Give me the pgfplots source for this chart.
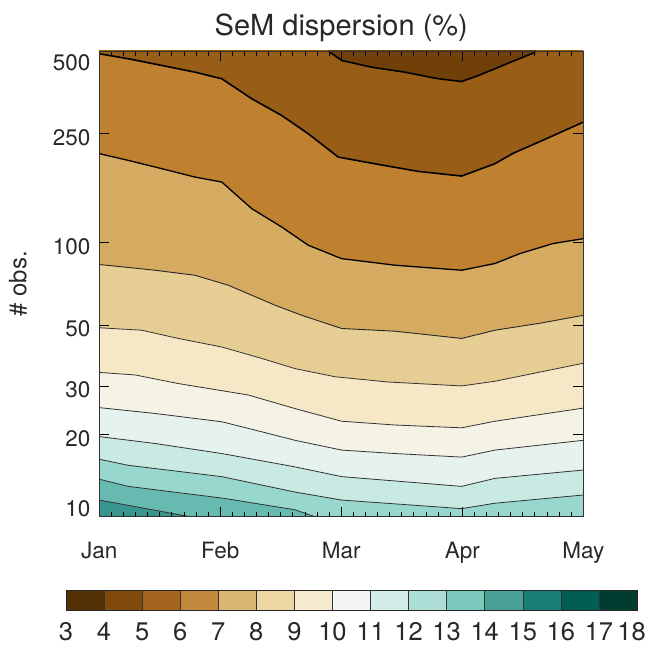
\documentclass[border=0pt]{standalone}
\usepackage{pgfplots}
\pgfplotsset{compat=1.18}
\usepackage{fontspec}
\setmainfont{TeX Gyre Heros}
\definecolor{pV}{RGB}{112,64,8}
\definecolor{pAB}{RGB}{152,93,22}
\definecolor{pBC}{RGB}{191,128,48}
\definecolor{pCD}{RGB}{213,171,97}
\definecolor{pDE}{RGB}{230,205,148}
\definecolor{pEF}{RGB}{246,232,198}
\definecolor{pFG}{RGB}{245,242,230}
\definecolor{pGH}{RGB}{230,242,238}
\definecolor{pHI}{RGB}{200,234,227}
\definecolor{pIJ}{RGB}{152,215,205}
\definecolor{pJK}{RGB}{103,186,176}
\definecolor{pK}{RGB}{57,150,142}
\definecolor{cbA}{RGB}{84,48,5}
\definecolor{cbB}{RGB}{128,74,12}
\definecolor{cbC}{RGB}{164,102,30}
\definecolor{cbD}{RGB}{194,136,62}
\definecolor{cbE}{RGB}{218,183,117}
\definecolor{cbF}{RGB}{236,214,163}
\definecolor{cbG}{RGB}{245,234,206}
\definecolor{cbH}{RGB}{244,244,244}
\definecolor{cbI}{RGB}{210,236,233}
\definecolor{cbJ}{RGB}{172,222,214}
\definecolor{cbK}{RGB}{123,201,189}
\definecolor{cbL}{RGB}{72,160,150}
\definecolor{cbM}{RGB}{25,127,118}
\definecolor{cbN}{RGB}{1,94,83}
\definecolor{cbO}{RGB}{0,60,48}
\definecolor{txt}{RGB}{40,40,40}
\begin{document}
\begin{tikzpicture}
\begin{axis}[
  at={(99.3pt,-516.7pt)}, anchor=south west,
  width=484pt, height=465.7pt, scale only axis,
  xmin=0, xmax=4, ymin=10, ymax=500, ymode=log,
  xtick={0,1,2,3,4}, xticklabels={Jan,Feb,Mar,Apr,May},
  minor x tick num=9,
  ytick={10,20,30,50,100,250,500},
  yticklabels={{\raisebox{12pt}[\height][\depth]{10}},20,30,50,100,250,{\raisebox{-7.7pt}[\height][\depth]{500}}},
  yminorticks=false,
  major tick length=10pt, minor tick length=5pt,
  every tick/.style={black, line width=0.8pt},
  axis line style={black!80, line width=0.9pt},
  tick label style={font=\fontsize{22.5}{27}\selectfont, text=txt},
  xticklabel style={anchor=base, yshift=-42pt},
  yticklabel style={anchor=east, inner sep=0pt, xshift=-8.6pt, yshift=-4pt},
  title={SeM dispersion (\%)},
  title style={at={(0.5,1)}, anchor=base, yshift=9pt, font=\fontsize{29}{34}\selectfont, text=txt},
  ylabel={\# obs.},
  every axis y label/.style={at={(axis description cs:-0.168,0.5)}, rotate=90, anchor=center, font=\fontsize{24}{28}\selectfont, text=txt},
  axis on top,
]
% filled bands (drawn top to bottom)
\addplot[fill=pV, draw=none, mark=none] coordinates {(0,5)(0,1000)(4,1000)(4,5)} -- cycle;
\addplot[fill=pAB, draw=none, mark=none] coordinates {(0,5)(0,1000)(1.893,1000)(1.893,500)(2.003,461.7)(2.251,436.5)(2.526,418.5)(2.802,396)(2.995,387)(3.132,407)(3.270,430.7)(3.367,449)(3.584,491)(3.61,500)(3.61,1000)(4,1000)(4,5)} -- cycle;
\addplot[fill=pBC, draw=none, mark=none] coordinates {(0,488.5)(0.240,468.4)(0.516,442.9)(0.791,418.5)(1.012,396)(1.260,334.9)(1.507,290.9)(1.727,249.5)(1.975,205.1)(2.306,192.9)(2.636,181.9)(2.995,174.9)(3.270,194.1)(3.419,211.6)(3.700,239.9)(4,275.1)(4,5)(0,5)} -- cycle;
\addplot[fill=pCD, draw=none, mark=none] coordinates {(0,211.1)(0.240,199.5)(0.516,186.1)(0.791,173.4)(1.012,166.3)(1.260,133.0)(1.507,114.0)(1.727,97.8)(2.003,87.4)(2.444,82.7)(2.995,79.3)(3.270,83.9)(3.477,91.2)(3.750,99.2)(4,103.4)(4,5)(0,5)} -- cycle;
\addplot[fill=pDE, draw=none, mark=none] coordinates {(0,83.2)(0.460,79.3)(0.791,76.0)(1.066,69.9)(1.452,59.1)(1.673,54.3)(2.003,48.6)(2.444,47.5)(2.995,44.7)(3.270,47.9)(3.642,50.8)(4,54.3)(4,5)(0,5)} -- cycle;
\addplot[fill=pEF, draw=none, mark=none] coordinates {(0,48.9)(0.350,47.9)(0.653,44.7)(1.012,41.6)(1.342,37.8)(1.617,34.7)(1.948,32.4)(2.388,31.0)(2.995,30.0)(3.270,31.2)(3.642,33.7)(4,36.3)(4,5)(0,5)} -- cycle;
\addplot[fill=pFG, draw=none, mark=none] coordinates {(0,33.6)(0.295,32.9)(0.653,30.6)(1.231,27.8)(1.617,24.8)(2.003,22.3)(2.444,21.6)(2.995,21.1)(3.270,22.3)(4,24.9)(4,5)(0,5)} -- cycle;
\addplot[fill=pGH, draw=none, mark=none] coordinates {(0,25.0)(0.460,23.8)(1.012,22.2)(1.231,21.0)(1.617,19.0)(2.003,17.5)(2.444,17.0)(2.995,16.5)(3.270,17.5)(4,19.0)(4,5)(0,5)} -- cycle;
\addplot[fill=pHI, draw=none, mark=none] coordinates {(0,19.6)(0.460,18.5)(1.012,17.0)(1.617,15.2)(2.003,14.0)(2.995,12.9)(3.270,13.8)(4,14.8)(4,5)(0,5)} -- cycle;
\addplot[fill=pIJ, draw=none, mark=none] coordinates {(0,16.2)(0.240,15.4)(1.012,14.0)(1.617,12.3)(2.003,11.5)(2.995,10.7)(3.270,11.2)(4,12.0)(4,5)(0,5)} -- cycle;
\addplot[fill=pJK, draw=none, mark=none] coordinates {(0,13.7)(0.240,12.9)(1.012,11.7)(1.617,10.6)(1.783,10)(1.783,5)(0,5)} -- cycle;
\addplot[fill=pK, draw=none, mark=none] coordinates {(0,11.5)(0.240,11.0)(0.75,10)(0.75,5)(0,5)} -- cycle;
% contour lines
\addplot[black, line width=1.6pt, mark=none] coordinates {(1.893,500)(2.003,461.7)(2.251,436.5)(2.526,418.5)(2.802,396)(2.995,387)(3.132,407)(3.270,430.7)(3.367,449)(3.584,491)(3.61,500)};
\addplot[black, line width=1.6pt, mark=none] coordinates {(0,488.5)(0.240,468.4)(0.516,442.9)(0.791,418.5)(1.012,396)(1.260,334.9)(1.507,290.9)(1.727,249.5)(1.975,205.1)(2.306,192.9)(2.636,181.9)(2.995,174.9)(3.270,194.1)(3.419,211.6)(3.700,239.9)(4,275.1)};
\addplot[black, line width=1.3pt, mark=none] coordinates {(0,211.1)(0.240,199.5)(0.516,186.1)(0.791,173.4)(1.012,166.3)(1.260,133.0)(1.507,114.0)(1.727,97.8)(2.003,87.4)(2.444,82.7)(2.995,79.3)(3.270,83.9)(3.477,91.2)(3.750,99.2)(4,103.4)};
\addplot[black!85, line width=0.9pt, mark=none] coordinates {(0,83.2)(0.460,79.3)(0.791,76.0)(1.066,69.9)(1.452,59.1)(1.673,54.3)(2.003,48.6)(2.444,47.5)(2.995,44.7)(3.270,47.9)(3.642,50.8)(4,54.3)};
\addplot[black!80, line width=0.8pt, mark=none] coordinates {(0,48.9)(0.350,47.9)(0.653,44.7)(1.012,41.6)(1.342,37.8)(1.617,34.7)(1.948,32.4)(2.388,31.0)(2.995,30.0)(3.270,31.2)(3.642,33.7)(4,36.3)};
\addplot[black!80, line width=0.8pt, mark=none] coordinates {(0,33.6)(0.295,32.9)(0.653,30.6)(1.231,27.8)(1.617,24.8)(2.003,22.3)(2.444,21.6)(2.995,21.1)(3.270,22.3)(4,24.9)};
\addplot[black!80, line width=0.8pt, mark=none] coordinates {(0,25.0)(0.460,23.8)(1.012,22.2)(1.231,21.0)(1.617,19.0)(2.003,17.5)(2.444,17.0)(2.995,16.5)(3.270,17.5)(4,19.0)};
\addplot[black!80, line width=0.8pt, mark=none] coordinates {(0,19.6)(0.460,18.5)(1.012,17.0)(1.617,15.2)(2.003,14.0)(2.995,12.9)(3.270,13.8)(4,14.8)};
\addplot[black!80, line width=0.8pt, mark=none] coordinates {(0,16.2)(0.240,15.4)(1.012,14.0)(1.617,12.3)(2.003,11.5)(2.995,10.7)(3.270,11.2)(4,12.0)};
\addplot[black!80, line width=0.8pt, mark=none] coordinates {(0,13.7)(0.240,12.9)(1.012,11.7)(1.617,10.6)(1.783,10)};
\addplot[black!80, line width=0.8pt, mark=none] coordinates {(0,11.5)(0.240,11.0)(0.75,10)};
\end{axis}
% colour bar
\begin{axis}[
  at={(66pt,-610pt)}, anchor=south west,
  width=571pt, height=20pt, scale only axis,
  xmin=3, xmax=18, ymin=0, ymax=1,
  xtick={3,4,5,6,7,8,9,10,11,12,13,14,15,16,17,18},
  xticklabels={3,4,5,6,7,8,9,10,11,12,13,14,15,16,17,{\hspace*{-11pt}18}},
  ytick=\empty, major tick length=0pt,
  axis line style={black!85, line width=0.9pt},
  xticklabel style={anchor=base, inner sep=0pt, yshift=-30pt, font=\fontsize{25.5}{29}\selectfont, text=txt},
  axis on top,
]
\addplot[fill=cbA, draw=black!80, line width=0.6pt, mark=none] coordinates {(3,0)(3,1)(4,1)(4,0)} -- cycle;
\addplot[fill=cbB, draw=black!80, line width=0.6pt, mark=none] coordinates {(4,0)(4,1)(5,1)(5,0)} -- cycle;
\addplot[fill=cbC, draw=black!80, line width=0.6pt, mark=none] coordinates {(5,0)(5,1)(6,1)(6,0)} -- cycle;
\addplot[fill=cbD, draw=black!80, line width=0.6pt, mark=none] coordinates {(6,0)(6,1)(7,1)(7,0)} -- cycle;
\addplot[fill=cbE, draw=black!80, line width=0.6pt, mark=none] coordinates {(7,0)(7,1)(8,1)(8,0)} -- cycle;
\addplot[fill=cbF, draw=black!80, line width=0.6pt, mark=none] coordinates {(8,0)(8,1)(9,1)(9,0)} -- cycle;
\addplot[fill=cbG, draw=black!80, line width=0.6pt, mark=none] coordinates {(9,0)(9,1)(10,1)(10,0)} -- cycle;
\addplot[fill=cbH, draw=black!80, line width=0.6pt, mark=none] coordinates {(10,0)(10,1)(11,1)(11,0)} -- cycle;
\addplot[fill=cbI, draw=black!80, line width=0.6pt, mark=none] coordinates {(11,0)(11,1)(12,1)(12,0)} -- cycle;
\addplot[fill=cbJ, draw=black!80, line width=0.6pt, mark=none] coordinates {(12,0)(12,1)(13,1)(13,0)} -- cycle;
\addplot[fill=cbK, draw=black!80, line width=0.6pt, mark=none] coordinates {(13,0)(13,1)(14,1)(14,0)} -- cycle;
\addplot[fill=cbL, draw=black!80, line width=0.6pt, mark=none] coordinates {(14,0)(14,1)(15,1)(15,0)} -- cycle;
\addplot[fill=cbM, draw=black!80, line width=0.6pt, mark=none] coordinates {(15,0)(15,1)(16,1)(16,0)} -- cycle;
\addplot[fill=cbN, draw=black!80, line width=0.6pt, mark=none] coordinates {(16,0)(16,1)(17,1)(17,0)} -- cycle;
\addplot[fill=cbO, draw=black!80, line width=0.6pt, mark=none] coordinates {(17,0)(17,1)(18,1)(18,0)} -- cycle;
\end{axis}
\pgfresetboundingbox
\useasboundingbox (0pt,0pt) rectangle (649pt,-647pt);
\end{tikzpicture}
\end{document}
